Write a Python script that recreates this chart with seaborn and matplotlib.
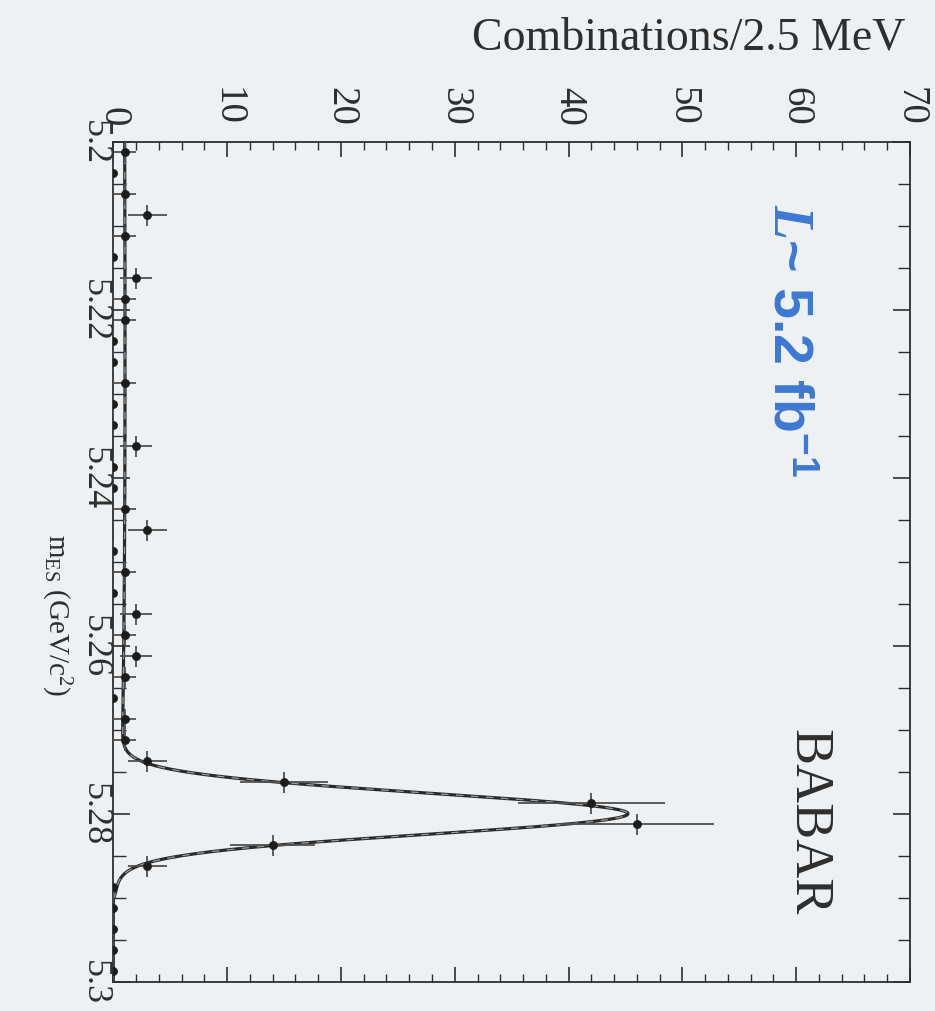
import numpy as np
import matplotlib
matplotlib.use("Agg")
import matplotlib.pyplot as plt
from matplotlib.ticker import MultipleLocator, FixedLocator, FixedFormatter
import seaborn as sns

# ---- m_ES histogram (2.5 MeV bins from 5.20 to 5.30 GeV/c^2) ----
mes_lo = 5.20
mes_hi = 5.30
bin_width = 0.0025
counts = [1, 0, 1, 3, 1, 0, 2, 1, 1, 0,
          0, 1, 0, 0, 2, 0, 0, 1, 3, 0,
          1, 0, 2, 1, 2, 1, 0, 1, 1, 3,
          15, 42, 46, 14, 3, 0, 0, 0, 0, 0]

# ---- fit: Gaussian signal + ARGUS background ----
sig_amp = 44.6
sig_mean = 5.2800
sig_width = 0.00245
bkg_level = 1.0        # background per bin at the low edge
argus_end = 5.29
argus_c = -20.0

# ---- axis ticks ----
count_ticks = [0, 10, 20, 30, 40, 50, 60, 70]
count_labels = ["0", "10", "20", "30", "40", "50", "60", "70"]
mes_ticks = [5.20, 5.22, 5.24, 5.26, 5.28, 5.30]
mes_labels = ["5.2", "5.22", "5.24", "5.26", "5.28", "5.3"]

bg = "#eef1f4"
ink = "#2e2e2e"

sns.set_theme(style="ticks")
plt.rcParams["font.family"] = ["Liberation Serif", "DejaVu Serif"]
plt.rcParams["mathtext.fontset"] = "custom"
plt.rcParams["mathtext.rm"] = "Liberation Serif"
plt.rcParams["mathtext.it"] = "Liberation Serif:style=italic:weight=bold"
plt.rcParams["mathtext.bf"] = "Liberation Sans:bold"

counts = np.asarray(counts, dtype=float)
n_bins = len(counts)
centers = mes_lo + bin_width * (np.arange(n_bins) + 0.5)


def argus(m):
    x = np.clip(m / argus_end, 0, 1)
    return m * np.sqrt(1 - x ** 2) * np.exp(argus_c * (1 - x ** 2))


m_fine = np.linspace(mes_lo, mes_hi, 3000)
bkg = bkg_level * argus(m_fine) / argus(np.array([mes_lo]))[0]
sig = sig_amp * np.exp(-0.5 * ((m_fine - sig_mean) / sig_width) ** 2)
total = sig + bkg

fig = plt.figure(figsize=(9.35, 10.12), dpi=100, facecolor=bg)
ax = fig.add_axes([113.3 / 935, 1 - 982.7 / 1012,
                   (910 - 113.3) / 935, (982.7 - 142.7) / 1012])
ax.set_facecolor(bg)

# fit curve (counts run horizontally, m_ES runs downwards)
sns.lineplot(x=total, y=m_fine, sort=False, estimator=None,
             color="#2a2a2a", linewidth=2.3, ax=ax)
ax.plot(total, m_fine, color="#9c9c9c", linewidth=0.9, dashes=(6, 6))

# data points with Poisson errors and bin-width bars
ax.errorbar(counts, centers, xerr=np.sqrt(counts), yerr=bin_width / 2,
            fmt="none", ecolor="#505050", elinewidth=1.3, zorder=4)
sns.scatterplot(x=counts, y=centers, ax=ax, s=34, color="#1c1c1c",
                edgecolor="#1c1c1c", linewidth=0.5, zorder=5, legend=False)

ax.set_xlim(0, 70)
ax.set_ylim(mes_hi, mes_lo)
ax.set_xlabel("")
ax.set_ylabel("")

ax.xaxis.set_major_locator(FixedLocator(count_ticks))
ax.xaxis.set_major_formatter(FixedFormatter(count_labels))
ax.xaxis.set_minor_locator(MultipleLocator(2))
ax.yaxis.set_major_locator(FixedLocator(mes_ticks))
ax.yaxis.set_major_formatter(FixedFormatter(mes_labels))
ax.yaxis.set_minor_locator(MultipleLocator(0.005))

ax.tick_params(axis="x", which="both", direction="in", top=True, bottom=True,
               labeltop=True, labelbottom=False, colors=ink)
ax.tick_params(axis="x", which="major", length=11, width=1.2,
               labelsize=28, labelrotation=-90, pad=12)
ax.tick_params(axis="x", which="minor", length=6, width=1.0)
ax.tick_params(axis="y", which="both", direction="in", left=True, right=True,
               labelleft=True, labelright=False, colors=ink)
ax.tick_params(axis="y", which="major", length=12, width=1.2,
               labelsize=26, labelrotation=-90, pad=2)
ax.tick_params(axis="y", which="minor", length=9, width=1.0)
plt.setp(ax.get_yticklabels(), va="center")

for s in ax.spines.values():
    s.set_color(ink)
    s.set_linewidth(1.3)

fig.text(905 / 935, 1 - 38 / 1012, "Combinations/2.5 MeV", ha="right",
         va="center", fontsize=33, color=ink)
fig.text(56 / 935, 1 - 615 / 1012, r"m$_{\rm ES}$ (GeV/c$^{2}$)",
         rotation=-90, ha="center", va="center", fontsize=21, color=ink)

ax.text(61.0, 5.2809, "BABAR", rotation=-90, ha="center", va="center",
        fontsize=39, color=ink)
ax.text(59.3, 5.2235, r"$\mathit{L}$~ 5.2 fb$^{\mathbf{-1}}$", rotation=-90,
        ha="center", va="center", fontsize=40, color="#3c78d2",
        family="Liberation Sans", weight="bold")

fig.savefig("out.png", dpi=100, facecolor=bg)
